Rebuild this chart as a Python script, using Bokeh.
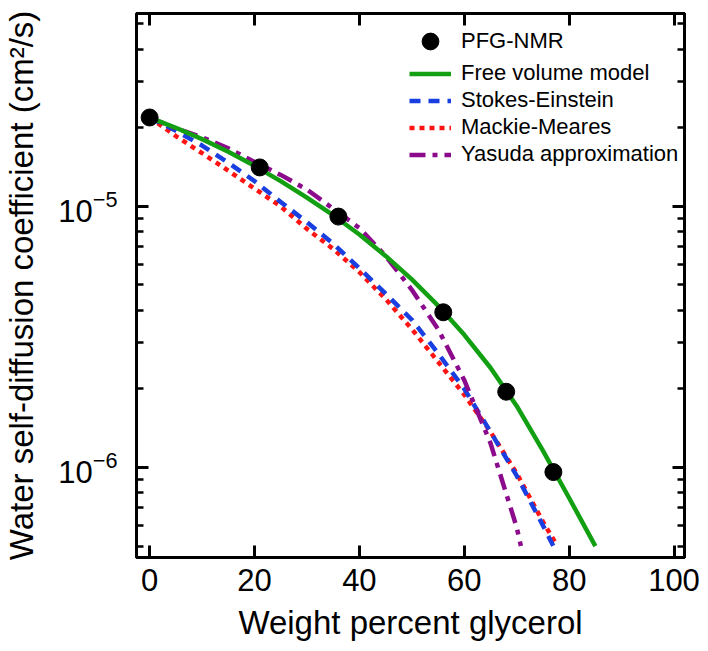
# -*- coding: utf-8 -*-

# Water self-diffusion coefficient vs. glycerol content (log y axis)
# PFG-NMR points + four model curves, drawn with Bokeh 3
# ----------------------------------------------------

from bokeh.plotting import figure
from bokeh.models import (Range1d, FixedTicker, LinearAxis, LogAxis, Legend, LegendItem,
                          CustomJSTickFormatter)
from bokeh.embed import file_html
from bokeh.resources import INLINE

# ---- data ----
wt_nmr = [0, 21, 36, 56, 68, 77]
d_nmr = [2.19e-5, 1.41e-5, 9.14e-6, 3.93e-6, 1.95e-6, 9.6e-7]

# Free volume model
wt_fv = [0, 5, 10, 15, 20, 25, 30, 35, 40, 45, 50, 55, 60, 65, 70, 75, 80, 85]
d_fv = [2.19e-5, 2.00e-5, 1.81e-5, 1.62e-5, 1.43e-5, 1.25e-5, 1.08e-5, 9.25e-6, 7.80e-6,
        6.46e-6, 5.25e-6, 4.17e-6, 3.22e-6, 2.41e-6, 1.72e-6, 1.16e-6, 7.64e-7, 5.0e-7]

# Stokes-Einstein
wt_se = [0, 5, 10, 15, 20, 25, 30, 35, 40, 45, 50, 55, 60, 65, 70, 75, 77]
d_se = [2.19e-5, 1.95e-5, 1.71e-5, 1.47e-5, 1.25e-5, 1.04e-5, 8.7e-6, 7.2e-6, 5.8e-6,
        4.63e-6, 3.68e-6, 2.74e-6, 2.0e-6, 1.37e-6, 9.3e-7, 6.0e-7, 5.0e-7]

# Mackie-Meares
wt_mm = [0, 5, 10, 15, 20, 25, 30, 35, 40, 45, 50, 55, 60, 65, 70, 75, 77.5]
d_mm = [2.19e-5, 1.86e-5, 1.60e-5, 1.37e-5, 1.17e-5, 1.0e-5, 8.2e-6, 6.87e-6, 5.6e-6,
        4.42e-6, 3.39e-6, 2.54e-6, 1.9e-6, 1.37e-6, 9.5e-7, 6.2e-7, 5.1e-7]

# Yasuda approximation
wt_ya = [0, 5, 10, 15, 20, 25, 30, 35, 40, 45, 50, 55, 60, 65, 70, 70.8]
d_ya = [2.19e-5, 1.99e-5, 1.84e-5, 1.67e-5, 1.48e-5, 1.32e-5, 1.16e-5, 9.8e-6, 8.26e-6,
        6.46e-6, 4.79e-6, 3.39e-6, 2.16e-6, 1.24e-6, 5.9e-7, 5.0e-7]

# ticks
x_ticks = [0, 20, 40, 60, 80, 100]
y_ticks = [1e-6, 1e-5]
y_minor = [5e-7, 6e-7, 7e-7, 8e-7, 9e-7,
           2e-6, 3e-6, 4e-6, 5e-6, 6e-6, 7e-6, 8e-6, 9e-6,
           2e-5, 3e-5, 4e-5, 5e-5]

FONT = "Liberation Sans"

p = figure(width=700, height=643,
           x_range=Range1d(-2.5, 102), y_range=Range1d(4.52e-7, 5.48e-5),
           y_axis_type="log", output_backend="svg", toolbar_location=None, tools="",
           min_border_left=129, min_border_right=16, min_border_top=13, min_border_bottom=79,
           x_axis_label="Weight percent glycerol",
           y_axis_label="Water self-diffusion coefficient (cm\u00b2/s)")
p.xgrid.grid_line_color = None
p.ygrid.grid_line_color = None
p.outline_line_color = "black"
p.outline_line_width = 3

# lines first, markers on top
r_mm = p.line(wt_mm, d_mm, color="#ff1414", line_width=4.5, line_dash="5 5")
r_se = p.line(wt_se, d_se, color="#1a3fe0", line_width=4.5, line_dash="11 8")
r_ya = p.line(wt_ya, d_ya, color="#8c0a8c", line_width=4.5, line_dash="16 7 5 7")
r_fv = p.line(wt_fv, d_fv, color="#12a012", line_width=4.5)
r_nmr = p.scatter(wt_nmr, d_nmr, size=17, marker="circle", color="black")


def style_axis(ax):
    ax.axis_line_color = "black"
    ax.axis_line_width = 3
    ax.major_tick_in = 12
    ax.major_tick_out = 0
    ax.minor_tick_in = 7
    ax.minor_tick_out = 0
    ax.major_tick_line_width = 3
    ax.minor_tick_line_width = 2.5
    ax.major_label_text_font = FONT
    ax.major_label_text_font_size = "31px"
    ax.major_label_text_color = "black"
    ax.axis_label_text_font = FONT
    ax.axis_label_text_font_size = "33px"
    ax.axis_label_text_font_style = "normal"
    ax.axis_label_text_color = "black"


ax_b = p.below[0]
ax_l = p.left[0]
style_axis(ax_b)
style_axis(ax_l)
ax_b.ticker = FixedTicker(ticks=x_ticks)
ax_b.minor_tick_line_color = None
ax_b.major_label_standoff = 11
ax_b.axis_label_standoff = 10
ax_l.ticker = FixedTicker(ticks=y_ticks, minor_ticks=y_minor)
ax_l.major_label_standoff = 19
ax_l.axis_label_standoff = 15

# mirrored axes on top and right, no labels
blank = CustomJSTickFormatter(code="return ''")
ax_t = LinearAxis(ticker=FixedTicker(ticks=x_ticks), formatter=blank)
ax_r = LogAxis(ticker=FixedTicker(ticks=y_ticks, minor_ticks=y_minor), formatter=blank)
for ax in (ax_t, ax_r):
    style_axis(ax)
    ax.major_label_text_font_size = "0px"
    ax.major_label_standoff = 0
ax_t.minor_tick_line_color = None
p.add_layout(ax_t, "above")
p.add_layout(ax_r, "right")


# legend: marker row on its own so the dot gets a full-size glyph box
def make_legend(items, loc, box_h, gap):
    lg = Legend(items=items, location=loc)
    lg.label_text_font = FONT
    lg.label_text_font_size = "22px"
    lg.label_text_color = "black"
    lg.glyph_width = 42
    lg.glyph_height = box_h
    lg.label_height = box_h
    lg.spacing = gap
    lg.label_standoff = 10
    lg.padding = 0
    lg.margin = 0
    lg.border_line_color = None
    lg.background_fill_alpha = 0
    return lg


leg_pts = make_legend([LegendItem(label="PFG-NMR", renderers=[r_nmr])], (273, 495), 42, 0)
leg_lines = make_legend([
    LegendItem(label="Free volume model", renderers=[r_fv]),
    LegendItem(label="Stokes-Einstein", renderers=[r_se]),
    LegendItem(label="Mackie-Meares", renderers=[r_mm]),
    LegendItem(label="Yasuda approximation", renderers=[r_ya]),
], (273, 390), 25, 1)
p.add_layout(leg_pts)
p.add_layout(leg_lines)

open("out.html", "w").write(file_html(p, INLINE))
